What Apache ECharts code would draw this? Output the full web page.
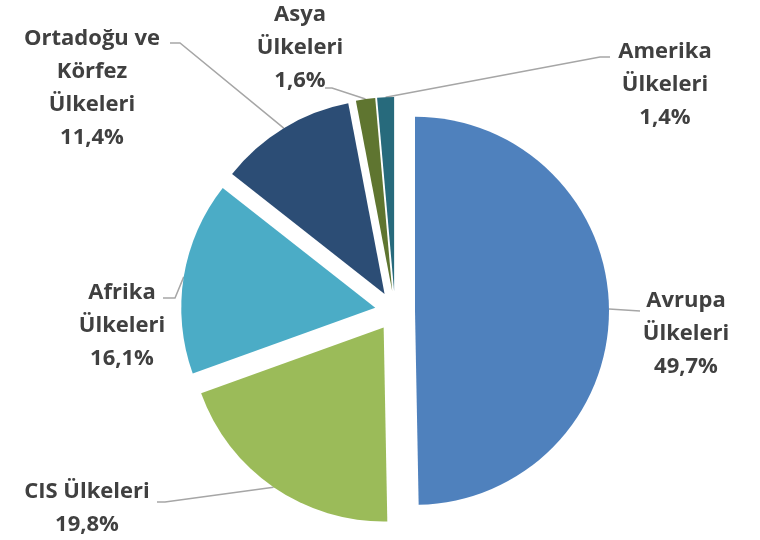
<!DOCTYPE html>
<html><head><meta charset="utf-8">
<script src="https://cdn.jsdelivr.net/npm/echarts@6/dist/echarts.min.js"></script>
<style>html,body{margin:0;padding:0;background:#fff}#c{width:760px;height:540px}</style>
</head><body><div id="c"></div>
<script>
const categories = ['Avrupa\nÜlkeleri', 'CIS Ülkeleri', 'Afrika\nÜlkeleri', 'Ortadoğu ve\nKörfez\nÜlkeleri', 'Asya\nÜlkeleri', 'Amerika\nÜlkeleri'];
const values = [49.7, 19.8, 16.1, 11.4, 1.6, 1.4];
const colors = ['#4F81BD', '#9BBB59', '#4BACC6', '#2C4D75', '#5F7530', '#276A7C'];
// label layout: text block centre and label-line bend points
const labelPos = [[686, 334], [87, 508], [122, 326], [92, 88], [300, 48], [665, 85]];
const linePts = [
  [[640, 311]],
  [[165, 502], [157, 502]],
  [[175, 298], [163, 298]],
  [[180, 43], [170, 43]],
  [[332, 88], [325, 88]],
  [[600, 57], [610, 57]]
];
const OFFSET = 20;

const chart = echarts.init(document.getElementById('c'), null, {renderer: 'canvas'});
chart.setOption({
  animation: false,
  series: [{
    type: 'pie',
    center: [395, 311],
    radius: 194,
    startAngle: 90,
    clockwise: true,
    selectedMode: 'multiple',
    selectedOffset: OFFSET,
    emphasis: {disabled: true},
    label: {show: false},
    labelLine: {show: false},
    data: categories.map((n, i) => ({
      name: n, value: values[i], selected: true,
      itemStyle: {color: colors[i]}
    }))
  }]
});

// labels + leader lines derived from the pie's own layout
const data = chart.getModel().getSeriesByIndex(0).getData();
const elements = [];
for (let i = 0; i < categories.length; i++) {
  const l = data.getItemLayout(i);
  const mid = (l.startAngle + l.endAngle) / 2;
  const cx = l.cx + Math.cos(mid) * OFFSET;
  const cy = l.cy + Math.sin(mid) * OFFSET;
  const anchor = [cx + Math.cos(mid) * l.r, cy + Math.sin(mid) * l.r];
  elements.push({
    type: 'polyline', silent: true,
    shape: {points: [anchor].concat(linePts[i])},
    style: {stroke: '#A6A6A6', lineWidth: 1.5, fill: null}
  });
  elements.push({
    type: 'text', silent: true,
    x: labelPos[i][0], y: labelPos[i][1],
    style: {
      text: categories[i] + '\n' + values[i].toFixed(1).replace('.', ',') + '%',
      fontFamily: 'Open Sans', fontWeight: 'bold', fontSize: 22, lineHeight: 33,
      fill: '#404040', align: 'center', verticalAlign: 'middle'
    }
  });
}
chart.setOption({graphic: {elements: elements}});
</script></body></html>
